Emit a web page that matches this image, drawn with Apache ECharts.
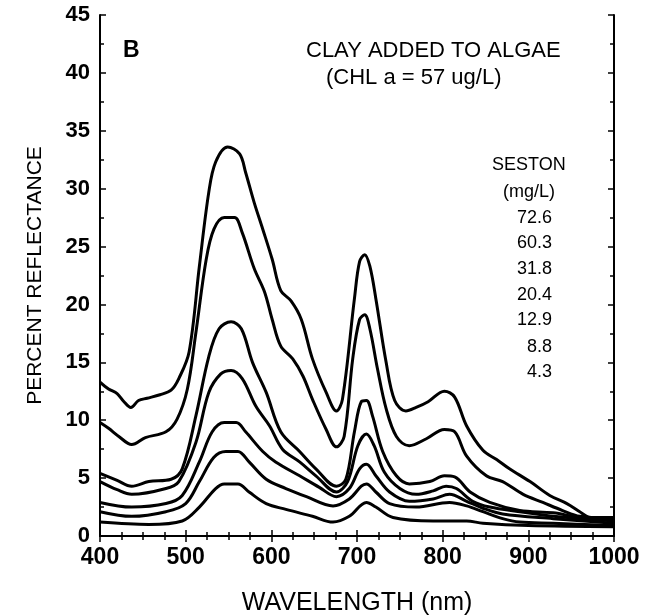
<!DOCTYPE html>
<html><head><meta charset="utf-8">
<script src="https://cdn.jsdelivr.net/npm/echarts@6/dist/echarts.min.js"></script>
<style>html,body{margin:0;padding:0;background:#fff}#c{width:658px;height:615px}</style>
</head><body><div id="c"></div>
<script>
var xTicks = [400, 500, 600, 700, 800, 900, 1000];
var yTicks = [0, 5, 10, 15, 20, 25, 30, 35, 40, 45];
var sestonLabels = ['72.6', '60.3', '31.8', '20.4', '12.9', '8.8', '4.3'];

var s72_6 = [[400,13.3],[410,12.7],[420,12.3],[428,11.6],[436,11.1],[445,11.7],[455,11.9],[470,12.2],[483,12.6],[492,13.6],[504,15.9],[516,23.3],[527,29.7],[535,32.3],[549,33.6],[563,33.0],[570,31.4],[580,28.8],[590,26.5],[601,23.9],[611,21.2],[623,20.3],[635,18.7],[648,15.3],[664,12.4],[676,10.8],[683,11.8],[697,20.5],[703,23.7],[709,24.3],[715,23.3],[722,20.5],[734,15.0],[744,11.7],[757,10.8],[769,11.1],[783,11.6],[802,12.5],[814,12.0],[828,9.5],[847,7.4],[863,6.6],[878,5.8],[902,4.7],[925,3.5],[945,2.8],[960,2.1],[972,1.6],[1000,1.6]];
var s60_3 = [[400,9.8],[410,9.3],[422,8.6],[437,7.9],[453,8.5],[477,9.0],[490,10.1],[502,12.7],[512,17.6],[524,23.9],[533,26.5],[545,27.5],[557,27.5],[566,26.2],[580,23.1],[592,21.1],[601,18.7],[611,16.4],[625,15.3],[637,13.8],[648,11.8],[664,9.2],[676,7.7],[685,8.6],[695,15.3],[703,18.7],[709,19.1],[715,17.9],[724,14.4],[734,11.0],[746,8.6],[761,7.8],[781,8.4],[802,9.2],[814,9.0],[828,6.9],[851,5.2],[870,4.7],[894,3.6],[917,2.9],[940,2.2],[960,1.7],[1000,1.5]];
var s31_8 = [[400,5.4],[420,4.8],[437,4.3],[457,4.7],[483,4.9],[496,5.8],[512,10.4],[527,15.5],[539,17.9],[553,18.5],[565,17.9],[578,15.0],[594,12.4],[611,9.0],[633,7.3],[652,5.8],[676,4.3],[687,4.9],[697,9.0],[705,11.6],[711,11.7],[718,10.4],[730,7.3],[746,5.2],[761,4.5],[785,4.7],[802,5.2],[814,5.1],[832,3.8],[855,2.9],[890,2.2],[929,2.0],[960,1.6],[1000,1.4]];
var s20_4 = [[400,4.7],[420,4.0],[437,3.6],[477,4.1],[492,4.7],[512,8.1],[527,12.4],[541,14.0],[553,14.3],[566,13.6],[582,11.2],[598,9.5],[613,7.5],[633,6.4],[652,5.2],[676,3.8],[689,4.7],[701,7.8],[711,8.8],[720,7.8],[732,5.5],[750,4.1],[769,3.6],[789,3.9],[804,4.3],[816,4.1],[835,3.0],[855,2.5],[890,2.1],[929,1.7],[1000,1.3]];
var s12_9 = [[400,2.9],[437,2.5],[477,2.8],[496,3.5],[516,6.4],[531,9.0],[545,9.8],[559,9.8],[570,9.0],[590,7.3],[605,6.4],[633,5.2],[656,4.2],[676,3.4],[691,4.1],[703,5.8],[711,6.2],[722,5.2],[738,3.8],[761,3.0],[789,3.2],[808,3.6],[828,3.0],[847,2.4],[870,1.9],[929,1.5],[1000,1.1]];
var s8_8 = [[400,2.1],[437,1.7],[477,2.1],[500,2.8],[516,4.7],[533,6.8],[547,7.3],[561,7.3],[574,6.4],[594,4.9],[617,4.1],[641,3.4],[672,2.6],[691,3.2],[705,4.3],[711,4.5],[722,3.8],[738,2.8],[769,2.5],[808,2.9],[828,2.6],[847,2.1],[870,1.5],[890,1.2],[929,1.1],[1000,0.9]];
var s4_3 = [[400,1.2],[457,1.0],[496,1.3],[516,2.5],[535,4.1],[545,4.5],[561,4.5],[574,3.8],[594,2.8],[617,2.3],[648,1.7],[672,1.2],[691,1.7],[711,2.9],[722,2.5],[742,1.6],[789,1.3],[828,1.3],[847,1.1],[900,0.9],[1000,0.8]];

var allSeries = [s72_6, s60_3, s31_8, s20_4, s12_9, s8_8, s4_3];

var chart = echarts.init(document.getElementById('c'), null, {renderer: 'canvas'});
var F = 'Liberation Sans, Arial, Helvetica, sans-serif';
var axisLine = {show: true, lineStyle: {color: '#000', width: 2}};
function xAx(pos, showLabel) {
  return {
    type: 'value', position: pos, min: 400, max: 1000, interval: 100,
    axisLine: axisLine,
    axisTick: {show: true, inside: true, length: 6, lineStyle: {color: '#000', width: 1.5}},
    minorTick: {show: true, splitNumber: 4, length: 4, lineStyle: {color: '#000', width: 1.5}},
    splitLine: {show: false},
    axisLabel: {show: showLabel, color: '#000', fontFamily: F, fontSize: 23, fontWeight: 'bold', margin: 10,
      formatter: function (v) { return xTicks.indexOf(v) >= 0 ? String(v) : ''; }},
    name: showLabel ? 'WAVELENGTH (nm)' : '', nameLocation: 'middle', nameGap: 55,
    nameTextStyle: {color: '#000', fontFamily: F, fontSize: 25}
  };
}
function yAx(pos, showLabel) {
  return {
    type: 'value', position: pos, min: 0, max: 45, interval: 5,
    axisLine: axisLine,
    axisTick: {show: true, inside: true, length: 6, lineStyle: {color: '#000', width: 1.5}},
    minorTick: {show: true, splitNumber: 2, length: 4, lineStyle: {color: '#000', width: 1.5}},
    splitLine: {show: false},
    axisLabel: {show: showLabel, color: '#000', fontFamily: F, fontSize: 22, fontWeight: 'bold', margin: 10,
      formatter: function (v) { return yTicks.indexOf(v) >= 0 ? String(v) : ''; }},
    name: showLabel ? 'PERCENT REFLECTANCE' : '', nameLocation: 'middle', nameGap: 54,
    nameTextStyle: {color: '#000', fontFamily: F, fontSize: 21}
  };
}

var series = allSeries.map(function (d, i) {
  return {
    type: 'line', name: sestonLabels[i], data: d, xAxisIndex: 0, yAxisIndex: 0,
    showSymbol: false, smooth: 0.35,
    lineStyle: {color: '#000', width: 3}, z: 3
  };
});

var graphics = [
  {type: 'text', left: 123, top: 39, style: {text: 'B', font: 'bold 23px ' + F, fill: '#000'}},
  {type: 'text', left: 306, top: 40, style: {text: 'CLAY ADDED TO ALGAE', font: '22px ' + F, fill: '#000'}},
  {type: 'text', left: 326, top: 67, style: {text: '(CHL a = 57 ug/L)', font: '22px ' + F, fill: '#000'}},
  {type: 'text', left: 492, top: 156, style: {text: 'SESTON', font: '18px ' + F, fill: '#000'}},
  {type: 'text', left: 503, top: 183, style: {text: '(mg/L)', font: '18px ' + F, fill: '#000'}}
];
var labelYs = [218, 243, 269, 295, 320, 347, 372];
sestonLabels.forEach(function (t, i) {
  graphics.push({type: 'text', x: 552, y: labelYs[i], style: {text: t, font: '18px ' + F, fill: '#000', align: 'right', verticalAlign: 'middle'}});
});

chart.setOption({
  animation: false,
  backgroundColor: '#fff',
  grid: {left: 100, right: 44, top: 15, bottom: 79, outerBoundsMode: 'none', containLabel: false},
  xAxis: [xAx('bottom', true), xAx('top', false)],
  yAxis: [yAx('left', true), yAx('right', false)],
  series: series,
  graphic: graphics
});
</script></body></html>
